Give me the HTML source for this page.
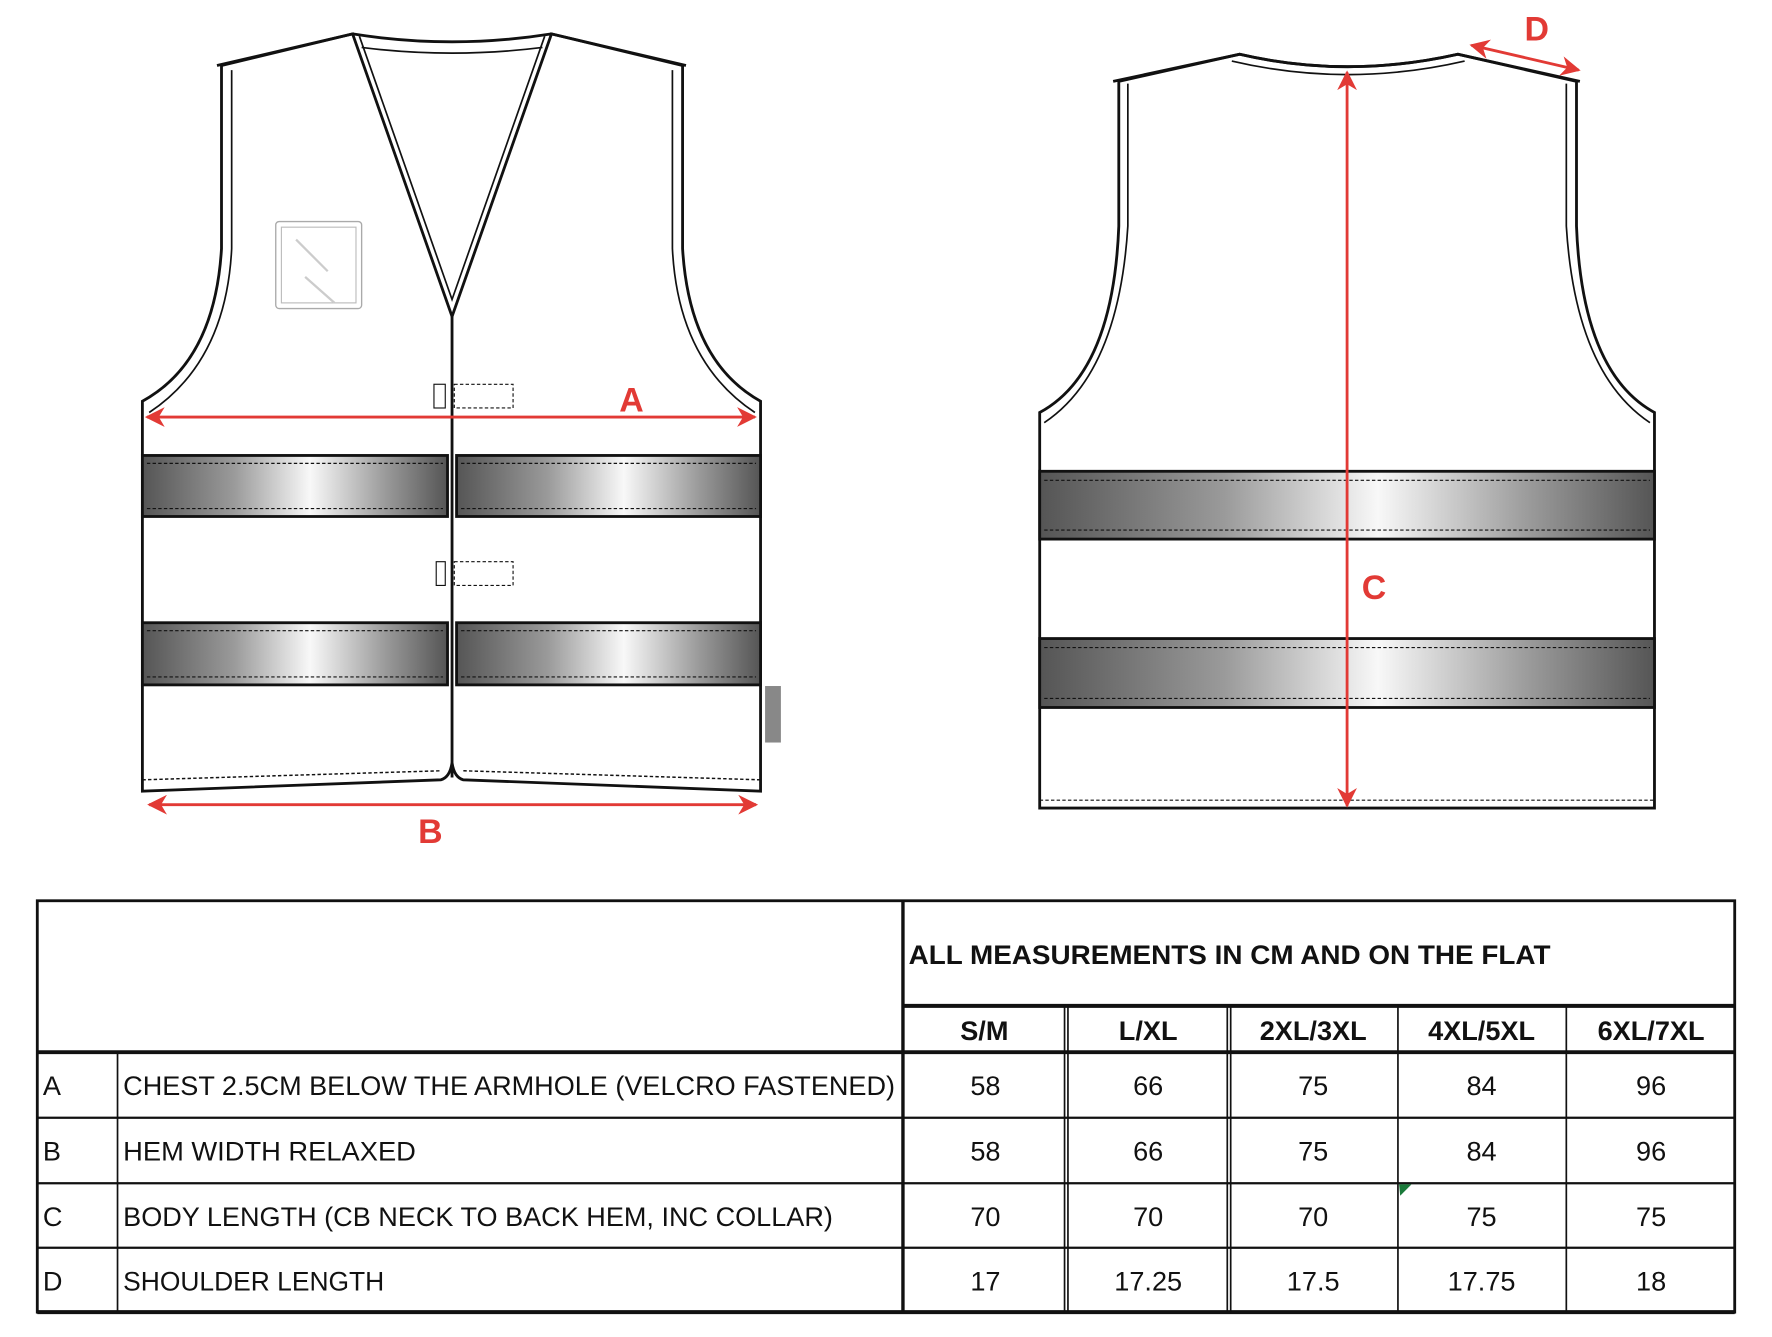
<!DOCTYPE html>
<html><head><meta charset="utf-8"><style>
html,body{margin:0;padding:0;background:#fff;width:1772px;height:1337px;overflow:hidden}
svg{display:block}
text{font-family:"Liberation Sans",sans-serif}
.t{font-size:24px;fill:#111}
.h{font-size:24px;font-weight:bold;fill:#111}
.r{font-size:30px;font-weight:bold;fill:#e23a35}
</style></head><body>
<svg width="1772" height="1337" viewBox="0 0 1568 1183" preserveAspectRatio="none" xmlns="http://www.w3.org/2000/svg">
<defs>
<linearGradient id="g" x1="0" x2="1" y1="0" y2="0">
<stop offset="0" stop-color="#555"/><stop offset="0.3" stop-color="#9a9a9a"/><stop offset="0.55" stop-color="#f8f8f8"/><stop offset="0.8" stop-color="#999"/><stop offset="1" stop-color="#555"/>
</linearGradient>
<marker id="ar" viewBox="0 0 10 10" refX="9" refY="5" markerWidth="7" markerHeight="7" orient="auto-start-reverse"><path d="M0,0 L10,5 L0,10 L3,5z" fill="#e23a35"/></marker>
</defs>
<g fill="none" stroke="#111" stroke-width="2.5">
<path d="M126,355 Q190,320 196,220 L196,58 L312,30 Q400,44 488,30 L604,58 L604,220 Q610,320 673,355 L673,700 L410,690 Q402,688 400,675 Q398,688 390,690 L126,700 Z" fill="#fff"/>
<path d="M192,58 L312,30 L400,280 L488,30 L607,58"/>
<path d="M318,32 L400,265 L482,32" stroke-width="1.5"/>
<path d="M320,42 Q400,52 480,42" stroke-width="1.5"/>
<path d="M205,62 L205,220 Q200,320 132,365" stroke-width="1.5"/>
<path d="M595,62 L595,220 Q600,320 668,365" stroke-width="1.5"/>
<line x1="400" y1="280" x2="400" y2="688"/>
<path d="M126,690 L390,682 M410,682 L673,690" stroke-width="1.3" stroke-dasharray="3 2"/>
<rect x="126" y="403" width="270" height="54" fill="url(#g)"/>
<rect x="404" y="403" width="269" height="54" fill="url(#g)"/>
<rect x="126" y="551" width="270" height="55" fill="url(#g)"/>
<rect x="404" y="551" width="269" height="55" fill="url(#g)"/>
<g stroke-width="1" stroke-dasharray="3 2">
<path d="M130,410 H392 M130,450 H392 M408,410 H669 M408,450 H669 M130,558 H392 M130,599 H392 M408,558 H669 M408,599 H669"/>
<rect x="402" y="340" width="52" height="21"/><rect x="402" y="497" width="52" height="21"/>
</g>
<rect x="384" y="340" width="10" height="21" stroke-width="1"/>
<rect x="386" y="497" width="8" height="21" stroke-width="1"/>
<rect x="244" y="196" width="76" height="77" rx="3" stroke="#aaa" stroke-width="1.2"/>
<rect x="249" y="201" width="66" height="67" stroke="#bbb" stroke-width="1"/>
<path d="M262,212 L290,240 M270,245 L296,268" stroke="#ccc" stroke-width="2"/>
<path d="M920,365 Q985,330 990,200 L990,72 L1097,48 Q1192,70 1290,48 L1395,72 L1395,200 Q1400,330 1464,365 L1464,715 L920,715 Z" fill="#fff"/>
<path d="M985,72 L1097,48 Q1192,70 1290,48 L1398,72"/>
<path d="M1090,54 Q1192,78 1296,54" stroke-width="1.5"/>
<path d="M998,74 L998,200 Q990,330 924,374" stroke-width="1.5"/>
<path d="M1386,74 L1386,200 Q1394,330 1460,374" stroke-width="1.5"/>
<rect x="920" y="417" width="544" height="60" fill="url(#g)"/>
<rect x="920" y="565" width="544" height="61" fill="url(#g)"/>
<g stroke-width="1" stroke-dasharray="3 2">
<path d="M924,425 H1460 M924,469 H1460 M924,573 H1460 M924,618 H1460 M920,708 H1464"/>
</g>
</g>
<rect x="677" y="607" width="14" height="50" fill="#888"/>
<g stroke="#e23a35" stroke-width="2.5" fill="none">
<line x1="130" y1="369" x2="668" y2="369" marker-start="url(#ar)" marker-end="url(#ar)"/>
<line x1="132" y1="712" x2="669" y2="712" marker-start="url(#ar)" marker-end="url(#ar)"/>
<line x1="1192" y1="64" x2="1192" y2="713" marker-start="url(#ar)" marker-end="url(#ar)"/>
<line x1="1302" y1="40" x2="1397" y2="62" marker-start="url(#ar)" marker-end="url(#ar)"/>
</g>
<text class="r" x="548" y="364">A</text>
<text class="r" x="370" y="746">B</text>
<text class="r" x="1205" y="530">C</text>
<text class="r" x="1349" y="36">D</text>
<g stroke="#111" fill="none">
<rect x="33" y="797" width="1502" height="364" stroke-width="2.5"/>
<line x1="799" y1="797" x2="799" y2="1161" stroke-width="3"/>
<line x1="799" y1="890" x2="1535" y2="890" stroke-width="3.5"/>
<line x1="33" y1="931" x2="1535" y2="931" stroke-width="3.5"/>
<line x1="33" y1="989" x2="1535" y2="989" stroke-width="2"/>
<line x1="33" y1="1047" x2="1535" y2="1047" stroke-width="2"/>
<line x1="33" y1="1104" x2="1535" y2="1104" stroke-width="2"/>
<line x1="33" y1="1161" x2="1535" y2="1161" stroke-width="3.5"/>
<line x1="104" y1="931" x2="104" y2="1161" stroke-width="1.5"/>
<line x1="942" y1="890" x2="942" y2="1161" stroke-width="1.5"/>
<line x1="945" y1="890" x2="945" y2="1161" stroke-width="1.5"/>
<line x1="1086" y1="890" x2="1086" y2="1161" stroke-width="1.5"/>
<line x1="1089" y1="890" x2="1089" y2="1161" stroke-width="1.5"/>
<line x1="1237" y1="890" x2="1237" y2="1161" stroke-width="1.5"/>
<line x1="1386" y1="890" x2="1386" y2="1161" stroke-width="1.5"/>
</g>
<text class="h" x="804" y="853" textLength="568" lengthAdjust="spacingAndGlyphs">ALL MEASUREMENTS IN CM AND ON THE FLAT</text>
<g text-anchor="middle">
<text class="h" x="871" y="920">S/M</text><text class="h" x="1016" y="920">L/XL</text><text class="h" x="1162" y="920">2XL/3XL</text><text class="h" x="1311" y="920">4XL/5XL</text><text class="h" x="1461" y="920">6XL/7XL</text>
</g>
<text class="t" x="38" y="969">A</text>
<text class="t" x="38" y="1027">B</text>
<text class="t" x="38" y="1085">C</text>
<text class="t" x="38" y="1142">D</text>
<text class="t" x="109" y="969" textLength="683" lengthAdjust="spacingAndGlyphs">CHEST 2.5CM BELOW THE ARMHOLE (VELCRO FASTENED)</text>
<text class="t" x="109" y="1027" textLength="259" lengthAdjust="spacingAndGlyphs">HEM WIDTH RELAXED</text>
<text class="t" x="109" y="1085" textLength="628" lengthAdjust="spacingAndGlyphs">BODY LENGTH (CB NECK TO BACK HEM, INC COLLAR)</text>
<text class="t" x="109" y="1142" textLength="231" lengthAdjust="spacingAndGlyphs">SHOULDER LENGTH</text>
<g text-anchor="middle">
<text class="t" x="872" y="969">58</text><text class="t" x="1016" y="969">66</text><text class="t" x="1162" y="969">75</text><text class="t" x="1311" y="969">84</text><text class="t" x="1461" y="969">96</text>
<text class="t" x="872" y="1027">58</text><text class="t" x="1016" y="1027">66</text><text class="t" x="1162" y="1027">75</text><text class="t" x="1311" y="1027">84</text><text class="t" x="1461" y="1027">96</text>
<text class="t" x="872" y="1085">70</text><text class="t" x="1016" y="1085">70</text><text class="t" x="1162" y="1085">70</text><text class="t" x="1311" y="1085">75</text><text class="t" x="1461" y="1085">75</text>
<text class="t" x="872" y="1142">17</text><text class="t" x="1016" y="1142">17.25</text><text class="t" x="1162" y="1142">17.5</text><text class="t" x="1311" y="1142">17.75</text><text class="t" x="1461" y="1142">18</text>
</g>
<path d="M1238,1048 L1249,1048 L1239,1058z" fill="#1a7a3a"/>
</svg>
</body></html>
